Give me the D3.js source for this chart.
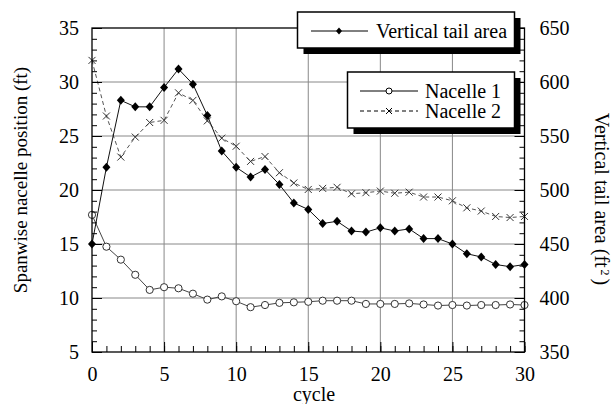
<!DOCTYPE html>
<html>
<head>
<meta charset="utf-8">
<script src="https://cdn.jsdelivr.net/npm/d3@7"></script>
<style>
  body { margin: 0; background: #fff; }
</style>
</head>
<body>
<svg id="chart" width="613" height="404" font-family="'Liberation Serif', 'Times New Roman', Times, serif"></svg>
<script>
// data
const cycles = [0, 1, 2, 3, 4, 5, 6, 7, 8, 9, 10, 11, 12, 13, 14, 15, 16, 17, 18, 19, 20, 21, 22, 23, 24, 25, 26, 27, 28, 29, 30];
const tailArea = [450, 521, 583, 577, 577, 595, 612, 598, 569, 536, 521, 512, 519, 505, 488, 482, 469, 471, 462, 461, 465, 462, 464, 455, 455, 450, 441, 438, 431, 429, 431];
const nacelle1 = [17.7, 14.75, 13.55, 12.15, 10.75, 11.0, 10.9, 10.4, 9.85, 10.15, 9.7, 9.15, 9.35, 9.55, 9.6, 9.65, 9.75, 9.75, 9.75, 9.45, 9.45, 9.45, 9.5, 9.4, 9.3, 9.35, 9.3, 9.35, 9.35, 9.4, 9.35];
const nacelle2 = [32.0, 26.85, 23.05, 24.9, 26.25, 26.45, 29.0, 28.3, 26.4, 24.8, 24.05, 22.65, 23.1, 21.6, 20.65, 20.05, 20.15, 20.25, 19.65, 19.75, 19.9, 19.7, 19.8, 19.35, 19.35, 19.0, 18.35, 18.05, 17.55, 17.45, 17.55];
const xTicks = [0, 5, 10, 15, 20, 25, 30];
const leftTicks = [5, 10, 15, 20, 25, 30, 35];
const rightTicks = [350, 400, 450, 500, 550, 600, 650];

const FONT = "'Liberation Serif', 'Times New Roman', Times, serif";
const svg = d3.select("#chart");
const L = 92, R = 524.5, T = 28, B = 352;

const x = d3.scaleLinear().domain([0, 30]).range([L, R]);
const yL = d3.scaleLinear().domain([5, 35]).range([B, T]);
const yR = d3.scaleLinear().domain([350, 650]).range([B, T]);

// grid
const grid = svg.append("g").attr("stroke", "#888").attr("stroke-width", 1);
grid.selectAll("line.v").data(xTicks.slice(1, -1)).enter().append("line")
  .attr("x1", d => x(d)).attr("x2", d => x(d)).attr("y1", T).attr("y2", B);
grid.selectAll("line.h").data(leftTicks.slice(1, -1)).enter().append("line")
  .attr("x1", L).attr("x2", R).attr("y1", d => yL(d)).attr("y2", d => yL(d));

// lines
const pts = arr => arr.map((v, i) => [cycles[i], v]);
const lineL = d3.line().x(d => x(d[0])).y(d => yL(d[1]));
const lineR = d3.line().x(d => x(d[0])).y(d => yR(d[1]));

svg.append("path").datum(pts(nacelle2)).attr("d", lineL)
  .attr("fill", "none").attr("stroke", "#555").attr("stroke-width", 1).attr("stroke-dasharray", "4,3");
svg.append("path").datum(pts(nacelle1)).attr("d", lineL)
  .attr("fill", "none").attr("stroke", "#444").attr("stroke-width", 1);
svg.append("path").datum(pts(tailArea)).attr("d", lineR)
  .attr("fill", "none").attr("stroke", "#111").attr("stroke-width", 1);

const diamond = "M0,-4.5L4,0L0,4.5L-4,0Z";
const cross = "M-3.5,-3.5L3.5,3.5M-3.5,3.5L3.5,-3.5";

svg.append("g").selectAll("path").data(pts(nacelle2)).enter().append("path")
  .attr("transform", d => `translate(${x(d[0])},${yL(d[1])})`)
  .attr("d", cross).attr("stroke", "#333").attr("stroke-width", 1).attr("fill", "none");
svg.append("g").selectAll("circle").data(pts(nacelle1)).enter().append("circle")
  .attr("cx", d => x(d[0])).attr("cy", d => yL(d[1])).attr("r", 3.6)
  .attr("fill", "#fff").attr("stroke", "#333").attr("stroke-width", 1);
svg.append("g").selectAll("path").data(pts(tailArea)).enter().append("path")
  .attr("transform", d => `translate(${x(d[0])},${yR(d[1])})`)
  .attr("d", diamond).attr("fill", "#000");

// axes, ticks pointing inward
function styleAxis(g) {
  g.attr("font-family", FONT).attr("font-size", 20);
  g.select(".domain").remove();
  g.selectAll("line").attr("stroke", "#000");
  g.selectAll("text").attr("fill", "#000");
}
svg.append("g").attr("transform", `translate(0,${B})`)
  .call(d3.axisBottom(x).ticks(30).tickSize(-6).tickFormat(""))
  .call(styleAxis);
svg.append("g").attr("transform", `translate(0,${B})`)
  .call(d3.axisBottom(x).tickValues(xTicks).tickSize(-10).tickPadding(15).tickFormat(d3.format("d")))
  .call(styleAxis);
svg.append("g").attr("transform", `translate(${L},0)`)
  .call(d3.axisLeft(yL).ticks(30).tickSize(-5).tickFormat(""))
  .call(styleAxis);
svg.append("g").attr("transform", `translate(${L},0)`)
  .call(d3.axisLeft(yL).tickValues(leftTicks).tickSize(-10).tickPadding(13).tickFormat(d3.format("d")))
  .call(styleAxis);
svg.append("g").attr("transform", `translate(${R},0)`)
  .call(d3.axisRight(yR).ticks(30).tickSize(-5).tickFormat(""))
  .call(styleAxis);
svg.append("g").attr("transform", `translate(${R},0)`)
  .call(d3.axisRight(yR).tickValues(rightTicks).tickSize(-10).tickPadding(15).tickFormat(d3.format("d")))
  .call(styleAxis);

// frame
svg.append("rect").attr("x", L).attr("y", T).attr("width", R - L).attr("height", B - T)
  .attr("fill", "none").attr("stroke", "#000").attr("stroke-width", 1.3);

// axis titles
svg.append("text").attr("transform", "translate(27,180) rotate(-90)")
  .attr("text-anchor", "middle").attr("font-size", 19)
  .text("Spanwise nacelle position (ft)");
const rt = svg.append("text").attr("transform", "translate(595,199) rotate(90)")
  .attr("text-anchor", "middle").attr("font-size", 20);
rt.append("tspan").text("Vertical tail area (ft");
rt.append("tspan").attr("dx", 2).attr("dy", -6).attr("font-size", 12).text("2");
rt.append("tspan").attr("dx", 3).attr("dy", 6).text(")");
svg.append("text").attr("x", 314).attr("y", 401).attr("text-anchor", "middle")
  .attr("font-size", 20).text("cycle");

// legends with drop shadow
function legendBox(x0, y0, w, h) {
  svg.append("rect").attr("x", x0 + 6).attr("y", y0 + 6).attr("width", w).attr("height", h).attr("fill", "#000");
  svg.append("rect").attr("x", x0).attr("y", y0).attr("width", w).attr("height", h)
    .attr("fill", "#fff").attr("stroke", "#000").attr("stroke-width", 1.5);
}
legendBox(297.5, 12, 217, 36);
svg.append("line").attr("x1", 311).attr("x2", 368).attr("y1", 31).attr("y2", 31).attr("stroke", "#000");
svg.append("path").attr("transform", "translate(339,31)").attr("d", "M0,-3.5L3,0L0,3.5L-3,0Z").attr("fill", "#000");
svg.append("text").attr("x", 376).attr("y", 37.5).attr("font-size", 20).text("Vertical tail area");

legendBox(347.5, 72, 167, 56);
svg.append("line").attr("x1", 360).attr("x2", 418).attr("y1", 91).attr("y2", 91).attr("stroke", "#000");
svg.append("circle").attr("cx", 389).attr("cy", 91).attr("r", 3).attr("fill", "#fff").attr("stroke", "#000");
svg.append("text").attr("x", 425).attr("y", 98).attr("font-size", 20).text("Nacelle 1");
svg.append("line").attr("x1", 360).attr("x2", 418).attr("y1", 111).attr("y2", 111)
  .attr("stroke", "#000").attr("stroke-dasharray", "4,3");
svg.append("path").attr("transform", "translate(389,111)").attr("d", "M-3,-3L3,3M-3,3L3,-3")
  .attr("stroke", "#000").attr("fill", "none");
svg.append("text").attr("x", 425).attr("y", 118).attr("font-size", 20).text("Nacelle 2");
</script>
</body>
</html>
